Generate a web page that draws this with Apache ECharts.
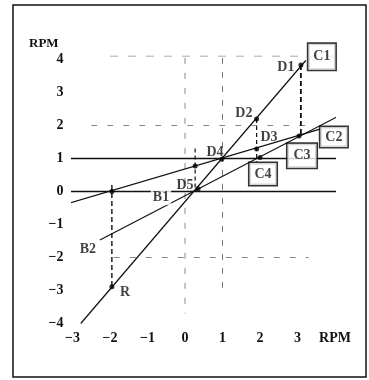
<!DOCTYPE html>
<html>
<head>
<meta charset="utf-8">
<script src="https://cdn.jsdelivr.net/npm/echarts@6/dist/echarts.min.js"></script>
<style>
  html, body { margin: 0; padding: 0; background: #fff; }
  #chart { width: 369px; height: 380px; }
</style>
</head>
<body>
<div id="chart"></div>
<script>
// tick labels
const xTicks = [-3, -2, -1, 0, 1, 2, 3];
const yTicks = [-4, -3, -2, -1, 0, 1, 2, 3, 4];

// solid lines (two end points each)
const lineR = [[-2.78, -4.0], [3.22, 3.97]];
const lineB1 = [[-3.07, -0.35], [3.6, 1.89]];
const lineB2 = [[-2.27, -1.47], [4.05, 2.26]];
const lineOne = [[-3.07, 1], [4.05, 1]];
const lineZero = [[-3.07, 0], [4.05, 0]];

// dark dashed verticals
const dropR = [[-1.95, 0.2], [-1.95, -2.89]];
const dropD5 = [[0.27, 1.3], [0.27, 0]];
const dropD2 = [[1.91, 2.2], [1.91, 0.9]];
const dropD1 = [[3.09, 3.83], [3.09, 1.68]];

// faint frame / guide lines
const frameLeft = [[-3.07, 4.05], [-3.07, -2.98]];
const frameRight = [[4.05, 4.2], [4.05, -3.9]];
const frameTop = [[-2.0, 4.1], [4.05, 4.1]];
const guideX0 = [[0, 4.05], [0, -3.7]];
const guideX1 = [[1, 4.05], [1, -3.05]];
const guideY2 = [[-2.5, 2], [3.3, 2]];
const guideYm2 = [[-1.9, -2], [3.3, -2]];

// marked points
const points = [
  [-1.95, -2.89], [-1.95, 0], [0.27, 0.77], [0.35, 0.08], [0.98, 0.98],
  [1.91, 2.2], [1.91, 1.29], [2.0, 1.03], [3.09, 3.83], [3.04, 1.68]
];

// plain text labels
const plainNames = ['D1', 'D2', 'D3', 'D4', 'D5', 'B1', 'B2', 'R'];
const plainAt = [
  [2.69, 3.77], [1.57, 2.38], [2.24, 1.65], [0.8, 1.2],
  [0.0, 0.17], [-0.64, -0.17], [-2.59, -1.74], [-1.6, -3.05]
];
// boxed labels
const boxNames = ['C1', 'C2', 'C3', 'C4'];
const boxAt = [[3.65, 4.08], [3.97, 1.65], [3.12, 1.08], [2.08, 0.53]];
const boxPad = [[6, 5], [3, 5], [5, 6], [4, 5]];

const FONT = 'Liberation Serif';

function seg(data, color, width, type) {
  return {
    type: 'line', data: data, symbol: 'none', silent: true, clip: false,
    lineStyle: { color: color, width: width, type: type || 'solid' },
    z: type ? 2 : 3
  };
}

const chart = echarts.init(document.getElementById('chart'));

const series = [
  seg(frameLeft, '#999', 1.5),
  seg(frameRight, '#999', 1.5),
  seg(frameTop, '#aaa', 1, [8, 10]),
  seg(guideX0, '#888', 1, [6, 9]),
  seg(guideX1, '#777', 1, [6, 8]),
  seg(guideY2, '#888', 1, [6, 10]),
  seg(guideYm2, '#888', 1, [6, 10]),
  seg(lineOne, '#111', 1.4),
  seg(lineZero, '#111', 1.4),
  seg(lineR, '#111', 1.2),
  seg(lineB1, '#111', 1.2),
  seg(lineB2, '#111', 1.2),
  seg(dropR, '#111', 1.4, [5, 3]),
  seg(dropD5, '#111', 1.2, [4, 3]),
  seg(dropD2, '#111', 1.2, [4, 3]),
  seg(dropD1, '#111', 1.8, [5, 3]),
  {
    type: 'scatter', data: points, symbolSize: 5, clip: false, silent: true,
    itemStyle: { color: '#000' }, z: 5
  },
  {
    type: 'scatter', clip: false, silent: true, symbolSize: 0, z: 6,
    data: plainNames.map((n, i) => ({
      value: plainAt[i],
      label: n === 'B1'
        ? { backgroundColor: '#fff', padding: [1, 2] }
        : {}
    })),
    label: {
      show: true, position: 'inside', color: '#111',
      fontFamily: FONT, fontWeight: 'bold', fontSize: 14,
      formatter: p => plainNames[p.dataIndex]
    }
  },
  {
    type: 'scatter', clip: false, silent: true, symbolSize: 0, z: 7,
    data: boxNames.map((n, i) => ({
      value: boxAt[i],
      label: { padding: boxPad[i] }
    })),
    label: {
      show: true, position: 'inside', color: '#111',
      fontFamily: FONT, fontWeight: 'bold', fontSize: 14,
      backgroundColor: '#fff', borderColor: '#000', borderWidth: 1.5,
      formatter: p => boxNames[p.dataIndex]
    }
  }
];

chart.setOption({
  animation: false,
  backgroundColor: '#fff',
  title: {
    text: 'RPM', left: 24, top: 32,
    textStyle: { color: '#111', fontFamily: FONT, fontWeight: 'bold', fontSize: 13 }
  },
  grid: { left: 72.5, right: 34, top: 59.5, bottom: 56.5 },
  xAxis: {
    type: 'value', min: -3, max: 4, interval: 1,
    axisLine: { show: false }, axisTick: { show: false }, splitLine: { show: false },
    axisLabel: {
      margin: 8, color: '#111', fontFamily: FONT, fontWeight: 'bold', fontSize: 14,
      formatter: v => v === 4 ? 'RPM' : (xTicks.indexOf(v) >= 0 ? String(v).replace('-', '\u2212') : '')
    }
  },
  yAxis: {
    type: 'value', min: -4, max: 4, interval: 1,
    axisLine: { show: false }, axisTick: { show: false }, splitLine: { show: false },
    axisLabel: {
      margin: 9, color: '#111', fontFamily: FONT, fontWeight: 'bold', fontSize: 14,
      formatter: v => yTicks.indexOf(v) >= 0 ? String(v).replace('-', '\u2212') : ''
    }
  },
  graphic: [{
    type: 'rect', silent: true,
    shape: { x: 13, y: 5, width: 353, height: 372 },
    style: { fill: 'none', stroke: '#111', lineWidth: 1.5 }
  }],
  series: series
});
</script>
</body>
</html>
